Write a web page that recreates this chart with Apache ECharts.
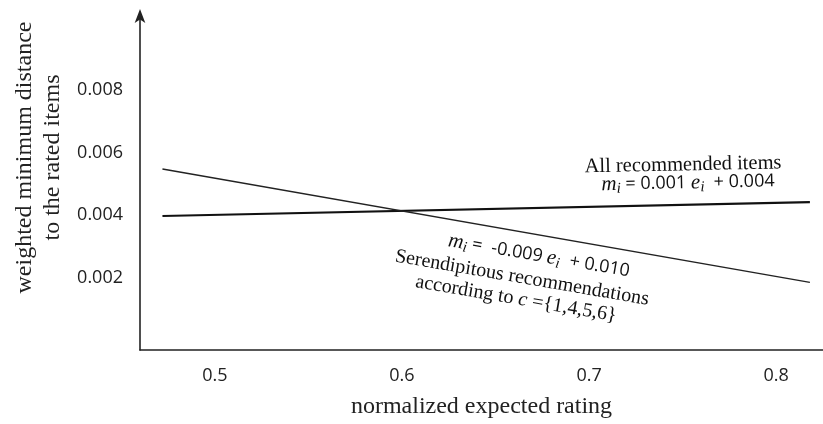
<!DOCTYPE html>
<html><head><meta charset="utf-8">
<script src="https://cdn.jsdelivr.net/npm/echarts@6/dist/echarts.min.js"></script>
<style>html,body{margin:0;padding:0;background:#fff}#c{width:823px;height:424px}</style>
</head><body><div id="c"></div>
<script>
// ---- data ----
const xTicks = [0.5, 0.6, 0.7, 0.8];
const yTicks = [0.002, 0.004, 0.006, 0.008];
const allRecommendedX = [0.472, 0.818];
const allRecommendedY = [0.00398, 0.00442];
const serendipitousX = [0.472, 0.818];
const serendipitousY = [0.00548, 0.00186];
const xTitle = 'normalized expected rating';
const yTitle = 'weighted minimum distance\nto the rated items';

const serif = 'Liberation Serif';
const sans = 'Open Sans';
const zip = (xs, ys) => xs.map((x, i) => [x, ys[i]]);

const chart = echarts.init(document.getElementById('c'), null, {renderer: 'canvas'});

const eqRich = {
  v: {fontFamily: serif, fontStyle: 'italic', fontSize: 21, lineHeight: 24, fill: '#111'},
  s: {fontFamily: serif, fontStyle: 'italic', fontSize: 15, lineHeight: 15, verticalAlign: 'bottom', fill: '#111'},
  n: {fontFamily: sans, fontSize: 18, lineHeight: 24, fill: '#111'}
};

chart.setOption({
  animation: false,
  grid: {left: 140, right: 0, top: 15, bottom: 72.5, containLabel: false},
  xAxis: {
    type: 'value', min: 0.46, max: 0.825,
    name: xTitle, nameLocation: 'middle', nameGap: 45,
    nameTextStyle: {fontFamily: serif, fontSize: 24, color: '#222'},
    axisLine: {show: true, onZero: false, lineStyle: {color: '#222', width: 1.6}},
    axisTick: {show: false},
    splitLine: {show: false},
    axisLabel: {customValues: xTicks, margin: 17, fontFamily: sans, fontSize: 18, color: '#222',
      formatter: v => v.toFixed(1)}
  },
  yAxis: {
    type: 'value', min: -0.0003, max: 0.0104,
    name: yTitle, nameLocation: 'middle', nameGap: 73, nameRotate: 90,
    nameTextStyle: {fontFamily: serif, fontSize: 24, lineHeight: 28, color: '#222', padding: [0, 0, 0, 50]},
    axisLine: {show: true, onZero: false, symbol: ['none', 'arrow'], symbolSize: [8, 14], symbolOffset: [0, 6],
      lineStyle: {color: '#222', width: 1.6}},
    axisTick: {show: false},
    splitLine: {show: false},
    axisLabel: {customValues: yTicks, margin: 17, fontFamily: sans, fontSize: 18, color: '#222',
      formatter: v => v.toFixed(3)}
  },
  series: [
    {name: 'All recommended items', type: 'line', data: zip(allRecommendedX, allRecommendedY),
      showSymbol: false, lineStyle: {color: '#111', width: 2.2}},
    {name: 'Serendipitous recommendations', type: 'line', data: zip(serendipitousX, serendipitousY),
      showSymbol: false, lineStyle: {color: '#222', width: 1.5}}
  ],
  graphic: [
    {type: 'text', x: 683, y: 165, rotation: 0.02,
      style: {text: 'All recommended items', font: '20.5px "Liberation Serif"', fill: '#111', align: 'center', verticalAlign: 'middle'}},
    {type: 'text', x: 688, y: 183, rotation: 0.02,
      style: {text: '{v|m}{s|i}{n| = 0.001 }{v|e}{s|i}{n|  + 0.004}', rich: eqRich, align: 'center', verticalAlign: 'middle'}},
    {type: 'text', x: 539, y: 256, rotation: -0.17,
      style: {text: '{v|m}{s|i}{n| =  -0.009 }{v|e}{s|i}{n|  + 0.010}', rich: eqRich, align: 'center', verticalAlign: 'middle'}},
    {type: 'text', x: 522, y: 278, rotation: -0.17,
      style: {text: 'Serendipitous recommendations', font: '20px "Liberation Serif"', fill: '#111', align: 'center', verticalAlign: 'middle'}},
    {type: 'text', x: 516, y: 299, rotation: -0.17,
      style: {text: '{t|according to }{v|c}{t| ={1,4,5,6}}', font: '20px "Liberation Serif"', fill: '#111',
        rich: {t: {fontFamily: serif, fontSize: 20, fill: '#111'}, v: {fontFamily: serif, fontStyle: 'italic', fontSize: 20, fill: '#111'}},
        align: 'center', verticalAlign: 'middle'}}
  ]
});
</script></body></html>
